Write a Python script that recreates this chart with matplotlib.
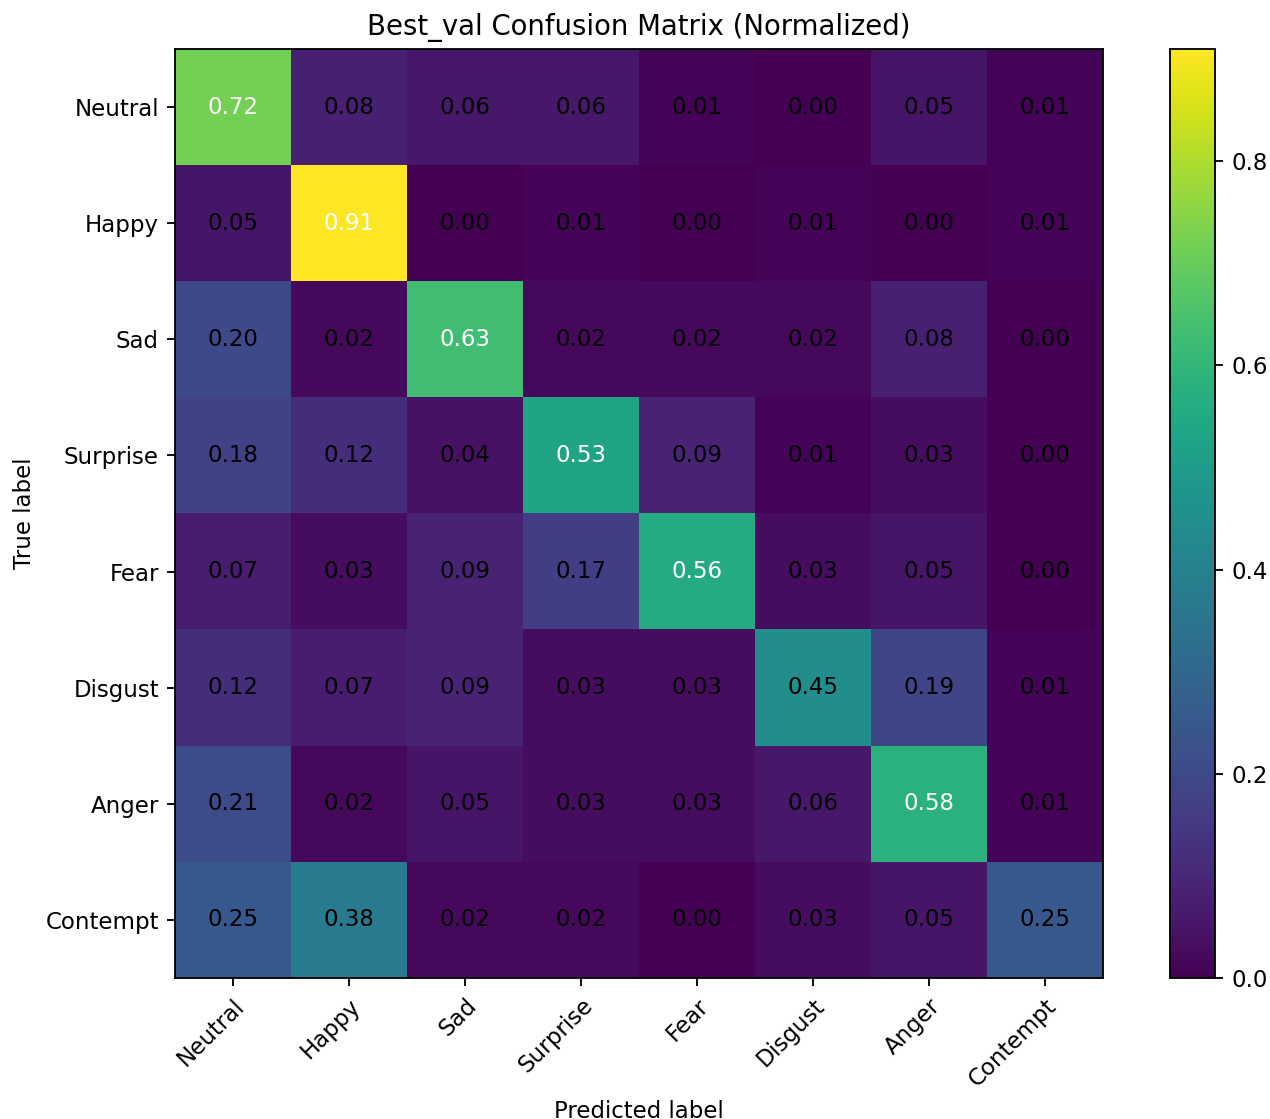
import matplotlib
matplotlib.use("Agg")
import matplotlib.pyplot as plt
import numpy as np

classes = ["Neutral", "Happy", "Sad", "Surprise", "Fear", "Disgust", "Anger", "Contempt"]
cm = np.array([
    [0.72, 0.08, 0.06, 0.06, 0.01, 0.00, 0.05, 0.01],
    [0.05, 0.91, 0.00, 0.01, 0.00, 0.01, 0.00, 0.01],
    [0.20, 0.02, 0.63, 0.02, 0.02, 0.02, 0.08, 0.00],
    [0.18, 0.12, 0.04, 0.53, 0.09, 0.01, 0.03, 0.00],
    [0.07, 0.03, 0.09, 0.17, 0.56, 0.03, 0.05, 0.00],
    [0.12, 0.07, 0.09, 0.03, 0.03, 0.45, 0.19, 0.01],
    [0.21, 0.02, 0.05, 0.03, 0.03, 0.06, 0.58, 0.01],
    [0.25, 0.38, 0.02, 0.02, 0.00, 0.03, 0.05, 0.25],
])

dpi = 165
fig = plt.figure(figsize=(1270 / dpi, 1119 / dpi), dpi=dpi)
ax = fig.add_axes([0.1378, 0.126, 0.7307, 0.8302])
cax = fig.add_axes([0.9213, 0.126, 0.0354, 0.8302])

im = ax.imshow(cm, interpolation="nearest", cmap="viridis", aspect="auto")
fig.colorbar(im, cax=cax)

ax.set_xticks(np.arange(len(classes)))
ax.set_yticks(np.arange(len(classes)))
ax.set_xticklabels(classes)
ax.set_yticklabels(classes)
plt.setp(ax.get_xticklabels(), rotation=45, ha="right", rotation_mode="anchor")

thresh = cm.max() / 2.0
for i in range(cm.shape[0]):
    for j in range(cm.shape[1]):
        ax.text(j, i, format(cm[i, j], ".2f"), ha="center", va="center",
                color="white" if cm[i, j] > thresh else "black")

ax.set_title("Best_val Confusion Matrix (Normalized)")
ax.set_ylabel("True label")
ax.set_xlabel("Predicted label")

fig.savefig("out.png", dpi=dpi)
